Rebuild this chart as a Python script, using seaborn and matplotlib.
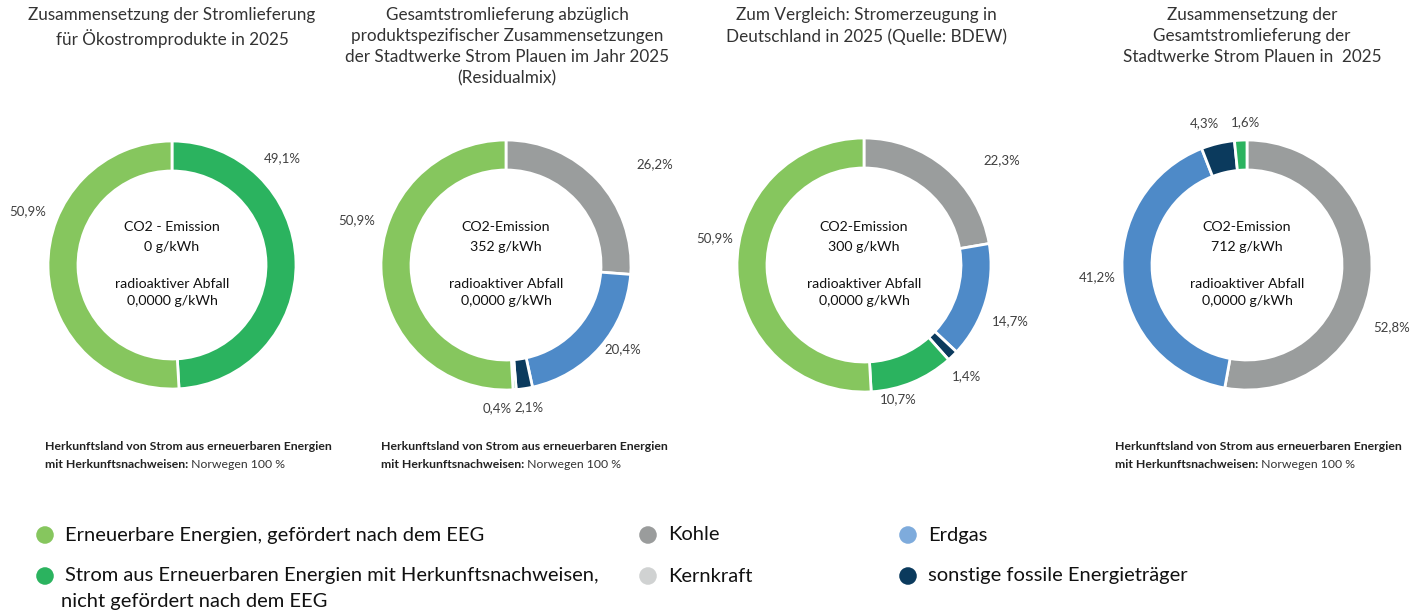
import matplotlib.pyplot as plt
import seaborn as sns

# Anteile je Diagramm (im Uhrzeigersinn ab 12 Uhr)
labels_oeko = ['Strom aus EE mit HKN', 'Erneuerbare (EEG)']
values_oeko = [49.1, 50.9]

labels_resid = ['Kohle', 'Erdgas', 'sonstige fossile', 'Strom aus EE mit HKN', 'Erneuerbare (EEG)']
values_resid = [26.2, 20.4, 2.1, 0.4, 50.9]

labels_de = ['Kohle', 'Erdgas', 'sonstige fossile', 'Strom aus EE mit HKN', 'Erneuerbare (EEG)']
values_de = [22.3, 14.7, 1.4, 10.7, 50.9]

labels_gesamt = ['Kohle', 'Erdgas', 'sonstige fossile', 'Strom aus EE mit HKN']
values_gesamt = [52.8, 41.2, 4.3, 1.6]

titles = [
    'Zusammensetzung der Stromlieferung\nfür Ökostromprodukte in 2025',
    'Gesamtstromlieferung abzüglich\nproduktspezifischer Zusammensetzungen\nder Stadtwerke Strom Plauen im Jahr 2025\n(Residualmix)',
    'Zum Vergleich: Stromerzeugung in\nDeutschland in 2025 (Quelle: BDEW)',
    'Zusammensetzung der\nGesamtstromlieferung der\nStadtwerke Strom Plauen in  2025',
]
co2_labels = ['CO2 - Emission', 'CO2-Emission', 'CO2-Emission', 'CO2-Emission']
co2_values = ['0 g/kWh', '352 g/kWh', '300 g/kWh', '712 g/kWh']
waste_values = ['0,0000 g/kWh'] * 4

legend_names = ['Erneuerbare Energien, gefördert nach dem EEG',
                'Strom aus Erneuerbaren Energien mit Herkunftsnachweisen,\nnicht gefördert nach dem EEG',
                'Kohle', 'Kernkraft', 'Erdgas', 'sonstige fossile Energieträger']

colors = {
    'Erneuerbare (EEG)': '#86c65e',
    'Strom aus EE mit HKN': '#2bb35f',
    'Kohle': '#9a9d9d',
    'Erdgas': '#4e8ac8',
    'sonstige fossile': '#0b3a5d',
}
legend_colors = ['#86c65e', '#2bb35f', '#9a9c9c', '#d0d2d2', '#7eabdc', '#0b3a5d']

sns.set_theme(style='white')
plt.rcParams['font.family'] = ['Lato', 'DejaVu Sans']

W, H = 1412, 612
fig = plt.figure(figsize=(W / 100, H / 100), dpi=100)
ax = fig.add_axes([0, 0, 1, 1])

charts = [(labels_oeko, values_oeko), (labels_resid, values_resid),
          (labels_de, values_de), (labels_gesamt, values_gesamt)]
centers = [(172, 265), (506, 265), (864, 265), (1247, 265)]
radii = [124, 125, 127, 125]
title_x = [172, 507, 866, 1252]

# Position der Prozentangaben (Pixel, von oben)
pct_pos = [
    [(282, 158), (28, 211)],
    [(655, 164), (623, 349), (529, 407), (497, 408), (357, 220)],
    [(1002, 160), (1010, 321), (966, 376), (898, 399), (715, 238)],
    [(1392, 327), (1097, 277), (1204, 123), (1245, 122)],
]

for i, (labs, vals) in enumerate(charts):
    cx, cy = centers[i]
    ax.pie(vals, colors=[colors[l] for l in labs], startangle=90, counterclock=False,
           radius=radii[i], center=(cx, H - cy),
           wedgeprops=dict(width=30, edgecolor='white', linewidth=2))
    for v, (px, py) in zip(vals, pct_pos[i]):
        ax.text(px, H - py, f'{v:.1f}%'.replace('.', ','), ha='center', va='center',
                fontsize=9.5, color='#404040')
    ax.text(title_x[i], H - 7, titles[i], ha='center', va='top', fontsize=12.3,
            color='#333333', linespacing=1.4)
    ax.text(cx, H - 227, co2_labels[i], ha='center', va='center', fontsize=10.2, color='#111111')
    ax.text(cx, H - 247, co2_values[i], ha='center', va='center', fontsize=10.2, color='#111111')
    ax.text(cx, H - 284, 'radioaktiver Abfall', ha='center', va='center', fontsize=10.2, color='#111111')
    ax.text(cx, H - 301, waste_values[i], ha='center', va='center', fontsize=10.2, color='#111111')

# Fußnoten zur Herkunft
for fx in [45, 381, 1115]:
    ax.text(fx, H - 447, 'Herkunftsland von Strom aus erneuerbaren Energien', ha='left',
            va='center', fontsize=8.8, fontweight='bold', color='#222222')
    t = ax.text(fx, H - 464, 'mit Herkunftsnachweisen:', ha='left', va='center',
                fontsize=8.8, fontweight='bold', color='#222222')
    ax.annotate(' Norwegen 100 %', xy=(1, 0.5), xycoords=t, ha='left', va='center',
                fontsize=8.8, color='#333333')

# Legende
leg_pos = [(45, 535), (45, 576), (648, 535), (648, 576), (908, 535), (908, 576)]
for name, col, (lx, ly) in zip(legend_names, legend_colors, leg_pos):
    ax.scatter(lx, H - ly, s=160, color=col, edgecolors='none')
    if '\n' in name:
        first, second = name.split('\n')
        ax.text(lx + 20, H - ly, first, ha='left', va='center', fontsize=14.5, color='#111111')
        ax.text(lx + 16, H - ly - 26, second, ha='left', va='center', fontsize=14.5, color='#111111')
    else:
        ax.text(lx + 20, H - ly, name, ha='left', va='center', fontsize=14.5, color='#111111')

ax.set_xlim(0, W)
ax.set_ylim(0, H)
ax.set_aspect('equal')
ax.axis('off')

fig.savefig('out.png', dpi=100, facecolor='white')
